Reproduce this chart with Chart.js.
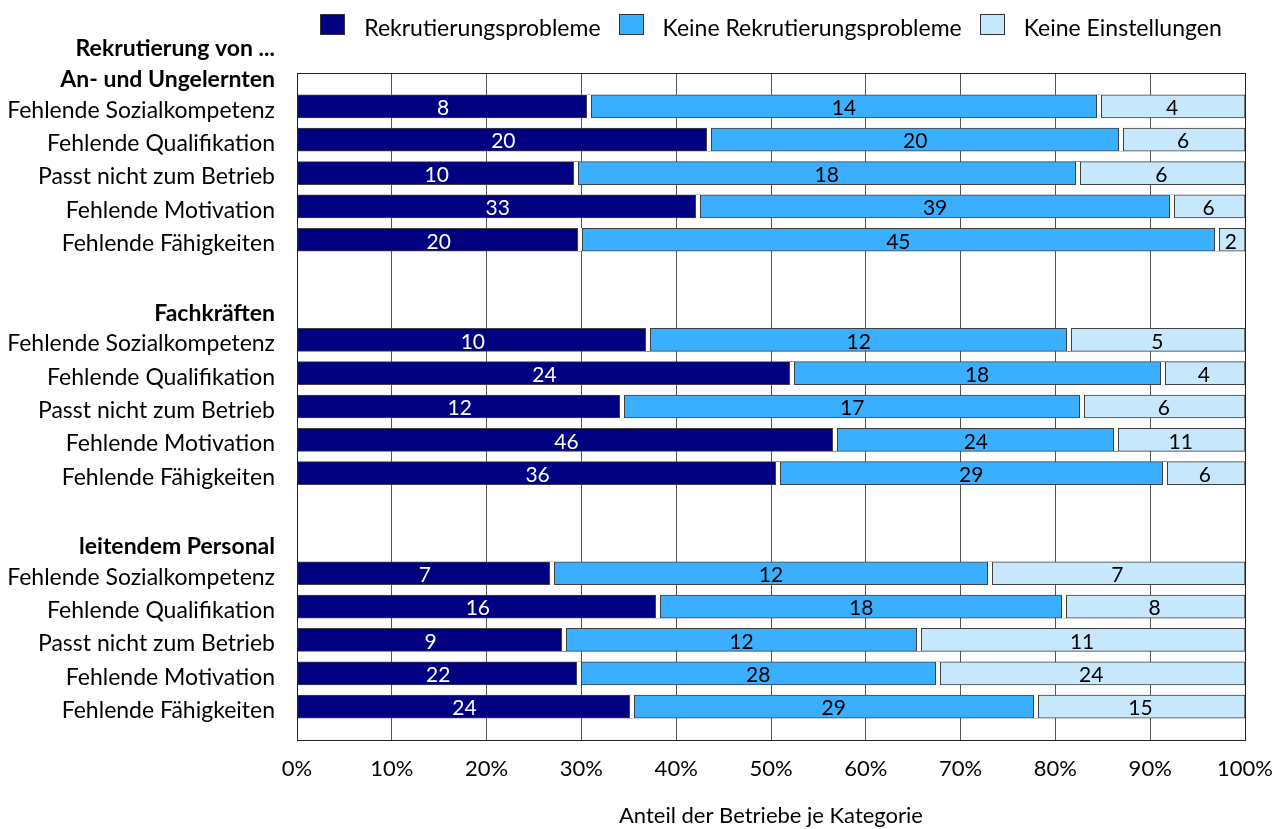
<!DOCTYPE html>
<html lang="de">
<head>
<meta charset="utf-8">
<title>Rekrutierungsprobleme</title>
<script src="https://cdn.jsdelivr.net/npm/chart.js@4.4.1/dist/chart.umd.min.js"></script>
<style>
    html, body { margin: 0; padding: 0; background: #fff; }
    #wrap { position: relative; width: 1285px; height: 829px; }
    #legend {
        position: absolute; top: 13px; left: 297px; width: 948px;
        display: flex; justify-content: center; gap: 18px;
        font: 23px Lato, "Open Sans", sans-serif; line-height: 28px; color: #000;
    }
    .item { display: flex; align-items: center; white-space: nowrap; }
    .box { width: 25px; height: 21px; box-sizing: border-box; border: 1px solid #333; margin: 0 19px 5px 0; }
</style>
</head>
<body>
<div id="wrap">
    <canvas id="chart" width="1285" height="829"></canvas>
    <div id="legend"></div>
</div>
<script>
// Gruppen und Gründe (von oben nach unten)
const groups = ['An- und Ungelernten', 'Fachkräften', 'leitendem Personal'];
const reasons = ['Fehlende Sozialkompetenz', 'Fehlende Qualifikation', 'Passt nicht zum Betrieb', 'Fehlende Motivation', 'Fehlende Fähigkeiten'];
const seriesNames = ['Rekrutierungsprobleme', 'Keine Rekrutierungsprobleme', 'Keine Einstellungen'];

// Anzahl Betriebe je Gruppe, Reihenfolge wie reasons
const problems   = [8, 20, 10, 33, 20,   10, 24, 12, 46, 36,   7, 16, 9, 22, 24];
const noProblems = [14, 20, 18, 39, 45,  12, 18, 17, 24, 29,   12, 18, 12, 28, 29];
const noHiring   = [4, 6, 6, 6, 2,       5, 4, 6, 11, 6,       7, 8, 11, 24, 15];

const topTitle = 'Rekrutierung von ...';
const axisTitle = 'Anteil der Betriebe je Kategorie';

const seriesColors = ['#000080', '#3AAFFF', '#C6E7FC'];
const labelColors = ['#ffffff', '#000000', '#000000'];
const FONT = 'Lato, "Open Sans", sans-serif';

// Zeilen aufbauen: Überschrift, 5 Gründe, Leerzeile
const series = [problems, noProblems, noHiring];
const rowLabels = [];
const rowCounts = [[], [], []];
groups.forEach((g, gi) => {
    rowLabels.push(g);
    rowCounts.forEach(rc => rc.push(null));
    reasons.forEach((r, ri) => {
        rowLabels.push(r);
        series.forEach((s, si) => rowCounts[si].push(s[gi * reasons.length + ri]));
    });
    rowLabels.push('');
    rowCounts.forEach(rc => rc.push(null));
});

// Anteile in Prozent je Zeile
const rowPct = rowCounts.map(rc => rc.map((v, i) => {
    if (v == null) return null;
    const total = rowCounts[0][i] + rowCounts[1][i] + rowCounts[2][i];
    return v / total * 100;
}));

// Legende als HTML
const legend = document.getElementById('legend');
seriesNames.forEach((name, i) => {
    const item = document.createElement('div');
    item.className = 'item';
    const box = document.createElement('span');
    box.className = 'box';
    box.style.background = seriesColors[i];
    const txt = document.createElement('span');
    txt.textContent = name;
    item.appendChild(box);
    item.appendChild(txt);
    legend.appendChild(item);
});

const barDecor = {
    id: 'barDecor',
    afterDatasetsDraw(chart) {
        const c = chart.ctx;
        const area = chart.chartArea;
        const yScale = chart.scales.y;
        c.save();

        // weiße Lücken mit dunklen Kanten zwischen den Segmenten
        for (let d = 0; d < chart.data.datasets.length - 1; d++) {
            const meta = chart.getDatasetMeta(d);
            meta.data.forEach((bar, j) => {
                if (rowCounts[d][j] == null) return;
                const bx = Math.round(bar.x);
                const top = Math.round(bar.y - bar.height / 2);
                const h = Math.round(bar.height);
                c.fillStyle = '#ffffff';
                c.fillRect(bx - 2, top, 4, h);
                c.fillStyle = '#404040';
                c.fillRect(bx - 3, top, 1, h);
                c.fillRect(bx + 2, top, 1, h);
            });
        }

        // Werte in den Segmenten
        c.font = '21px ' + FONT;
        c.textAlign = 'center';
        c.textBaseline = 'middle';
        chart.data.datasets.forEach((ds, d) => {
            const meta = chart.getDatasetMeta(d);
            meta.data.forEach((bar, j) => {
                const v = rowCounts[d][j];
                if (v == null) return;
                c.fillStyle = labelColors[d];
                c.fillText(String(v), (bar.base + bar.x) / 2, bar.y + 2);
            });
        });

        // Rahmen
        c.strokeStyle = '#222222';
        c.lineWidth = 1;
        c.strokeRect(area.left + 0.5, area.top + 0.5, area.right - area.left, area.bottom - area.top);

        // fette Überschriften links
        c.font = 'bold 23px ' + FONT;
        c.textAlign = 'right';
        c.fillStyle = '#000000';
        const lx = yScale.right - yScale.options.ticks.padding;
        const step = yScale.getPixelForTick(1) - yScale.getPixelForTick(0);
        rowLabels.forEach((lab, i) => {
            if (groups.includes(lab)) c.fillText(lab, lx, yScale.getPixelForTick(i) + 7);
        });
        c.fillText(topTitle, lx, yScale.getPixelForTick(0) - step + 9);
        c.restore();
    }
};

const ctx = document.getElementById('chart').getContext('2d');
const chart = new Chart(ctx, {
    type: 'bar',
    data: {
        labels: rowLabels,
        datasets: seriesNames.map((name, i) => ({
            label: name,
            data: rowPct[i],
            backgroundColor: seriesColors[i],
            borderColor: '#404040',
            borderWidth: 1,
            borderSkipped: false,
            barThickness: 23
        }))
    },
    options: {
        indexAxis: 'y',
        responsive: false,
        animation: false,
        layout: { padding: { top: 73, right: 40, bottom: 0, left: 0 } },
        plugins: {
            legend: { display: false },
            tooltip: { enabled: false }
        },
        scales: {
            x: {
                stacked: true,
                min: 0,
                max: 100,
                ticks: {
                    stepSize: 10,
                    padding: 16,
                    color: '#000000',
                    font: { family: FONT, size: 22 },
                    callback: v => v + '%'
                },
                grid: { color: '#555555', drawTicks: false },
                border: { display: false },
                title: {
                    display: true,
                    text: axisTitle,
                    color: '#000000',
                    font: { family: FONT, size: 22 },
                    padding: 0
                },
                afterFit: s => { s.height = 89; s.paddingLeft = 0; s.paddingRight = 0; }
            },
            y: {
                stacked: true,
                offset: false,
                grid: { display: false, drawTicks: false },
                border: { display: false },
                ticks: {
                    autoSkip: false,
                    padding: 22,
                    labelOffset: 4,
                    color: '#000000',
                    font: { family: FONT, size: 23 },
                    callback: (v, i) => groups.includes(rowLabels[i]) ? '' : rowLabels[i]
                },
                afterFit: s => { s.width = 297; }
            }
        }
    },
    plugins: [barDecor]
});
</script>
</body>
</html>
